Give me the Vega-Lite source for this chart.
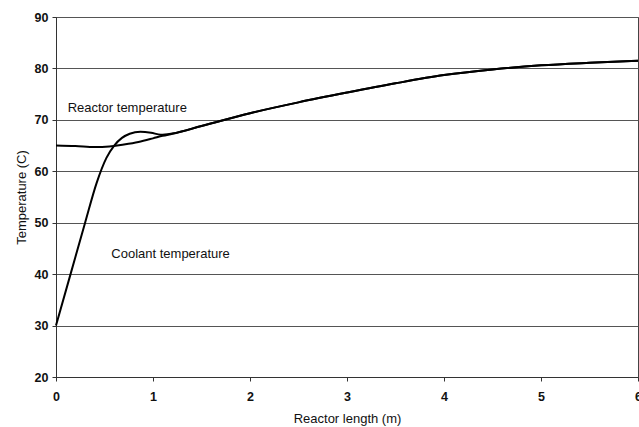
{
  "$schema": "https://vega.github.io/schema/vega-lite/v6.json",
  "width": 582,
  "height": 360,
  "autosize": "none",
  "padding": {"left": 56, "top": 17, "right": 1, "bottom": 50},
  "background": "white",
  "config": {
    "view": {"stroke": "#444", "strokeWidth": 1},
    "font": "Liberation Sans",
    "axis": {
      "labelFont": "Liberation Sans",
      "titleFont": "Liberation Sans",
      "labelFontSize": 12.5,
      "labelFontWeight": "bold",
      "titleFontSize": 13,
      "titleFontWeight": "normal",
      "labelColor": "#111",
      "titleColor": "#111",
      "domainColor": "#333",
      "tickColor": "#333",
      "gridColor": "#555",
      "gridOpacity": 1,
      "gridWidth": 1,
      "labelFlush": false,
      "labelOverlap": false
    }
  },
  "datasets": {
    "curves": [
      {"length": 0, "temp": 65.0, "series": "Reactor"},
      {"length": 0.2, "temp": 64.9, "series": "Reactor"},
      {"length": 0.4, "temp": 64.7, "series": "Reactor"},
      {"length": 0.55, "temp": 64.8, "series": "Reactor"},
      {"length": 0.7, "temp": 65.2, "series": "Reactor"},
      {"length": 0.85, "temp": 65.7, "series": "Reactor"},
      {"length": 1.0, "temp": 66.4, "series": "Reactor"},
      {"length": 1.1, "temp": 66.9, "series": "Reactor"},
      {"length": 1.2, "temp": 67.3, "series": "Reactor"},
      {"length": 1.5, "temp": 68.8, "series": "Reactor"},
      {"length": 2.0, "temp": 71.3, "series": "Reactor"},
      {"length": 2.5, "temp": 73.4, "series": "Reactor"},
      {"length": 3.0, "temp": 75.3, "series": "Reactor"},
      {"length": 3.5, "temp": 77.1, "series": "Reactor"},
      {"length": 4.0, "temp": 78.7, "series": "Reactor"},
      {"length": 4.5, "temp": 79.8, "series": "Reactor"},
      {"length": 5.0, "temp": 80.6, "series": "Reactor"},
      {"length": 5.5, "temp": 81.1, "series": "Reactor"},
      {"length": 6.0, "temp": 81.5, "series": "Reactor"},
      {"length": 0, "temp": 30.0, "series": "Coolant"},
      {"length": 0.15, "temp": 40.0, "series": "Coolant"},
      {"length": 0.30, "temp": 50.0, "series": "Coolant"},
      {"length": 0.42, "temp": 57.8, "series": "Coolant"},
      {"length": 0.52, "temp": 62.6, "series": "Coolant"},
      {"length": 0.6, "temp": 65.0, "series": "Coolant"},
      {"length": 0.68, "temp": 66.5, "series": "Coolant"},
      {"length": 0.76, "temp": 67.3, "series": "Coolant"},
      {"length": 0.87, "temp": 67.7, "series": "Coolant"},
      {"length": 0.98, "temp": 67.5, "series": "Coolant"},
      {"length": 1.08, "temp": 67.1, "series": "Coolant"},
      {"length": 1.2, "temp": 67.35, "series": "Coolant"},
      {"length": 1.5, "temp": 68.8, "series": "Coolant"},
      {"length": 2.0, "temp": 71.3, "series": "Coolant"},
      {"length": 2.5, "temp": 73.4, "series": "Coolant"},
      {"length": 3.0, "temp": 75.3, "series": "Coolant"},
      {"length": 3.5, "temp": 77.1, "series": "Coolant"},
      {"length": 4.0, "temp": 78.7, "series": "Coolant"},
      {"length": 4.5, "temp": 79.8, "series": "Coolant"},
      {"length": 5.0, "temp": 80.6, "series": "Coolant"},
      {"length": 5.5, "temp": 81.1, "series": "Coolant"},
      {"length": 6.0, "temp": 81.5, "series": "Coolant"}
    ],
    "labels": [
      {"length": 0.12, "temp": 72.3, "text": "Reactor temperature"},
      {"length": 0.57, "temp": 43.9, "text": "Coolant temperature"}
    ]
  },
  "layer": [
    {
      "data": {"name": "curves"},
      "mark": {"type": "line", "color": "#000", "strokeWidth": 2, "interpolate": "monotone"},
      "encoding": {
        "x": {
          "field": "length", "type": "quantitative",
          "scale": {"domain": [0, 6], "nice": false},
          "axis": {"values": [0, 1, 2, 3, 4, 5, 6], "grid": false, "tickSize": 4, "labelPadding": 9, "title": "Reactor length (m)", "titlePadding": 10, "format": "d"}
        },
        "y": {
          "field": "temp", "type": "quantitative",
          "scale": {"domain": [20, 90], "nice": false, "zero": false},
          "axis": {"values": [20, 30, 40, 50, 60, 70, 80, 90], "grid": true, "tickSize": 4, "labelPadding": 4, "title": "Temperature (C)", "titlePadding": 6}
        },
        "detail": {"field": "series"}
      }
    },
    {
      "data": {"name": "labels"},
      "mark": {"type": "text", "align": "left", "baseline": "middle", "fontSize": 13, "font": "Liberation Sans", "color": "#111"},
      "encoding": {
        "x": {"field": "length", "type": "quantitative"},
        "y": {"field": "temp", "type": "quantitative"},
        "text": {"field": "text"}
      }
    }
  ]
}
